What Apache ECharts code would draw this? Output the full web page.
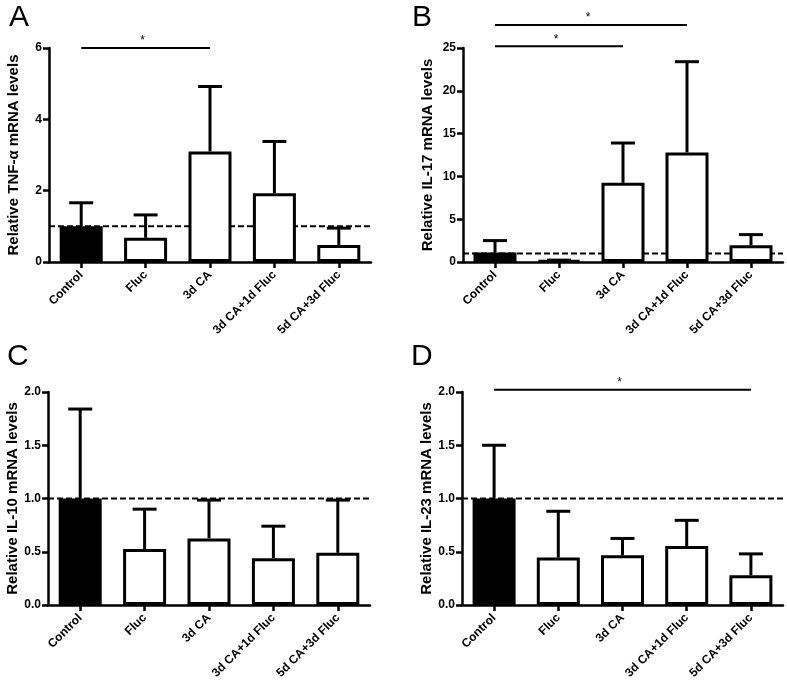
<!DOCTYPE html>
<html>
<head>
<meta charset="utf-8">
<script src="https://cdn.jsdelivr.net/npm/echarts@6/dist/echarts.min.js"></script>
<style>
html,body{margin:0;padding:0;background:#fff;}
#chart{width:787px;height:686px;}
</style>
</head>
<body>
<div id="chart"></div>
<script>
// ---- data ----
const categories = ['Control', 'Fluc', '3d CA', '3d CA+1d Fluc', '5d CA+3d Fluc'];

const tnfMean  = [1.0, 0.68, 3.1, 1.93, 0.48];
const tnfUpper = [1.66, 1.32, 4.92, 3.38, 0.95];

const il17Mean  = [1.1, 0.2, 9.25, 12.8, 1.95];
const il17Upper = [2.5, 0.22, 13.9, 23.4, 3.2];

const il10Mean  = [1.0, 0.525, 0.625, 0.44, 0.49];
const il10Upper = [1.84, 0.9, 0.985, 0.74, 0.985];

const il23Mean  = [1.0, 0.445, 0.466, 0.553, 0.28];
const il23Upper = [1.5, 0.88, 0.625, 0.795, 0.48];

// significance brackets: [fromCategoryIndex, toCategoryIndex, yValue]
const sigA = [[0, 2, 6.0]];
const sigB = [[0, 3, 27.7], [0, 2, 25.2]];
const sigC = [];
const sigD = [[0, 4, 2.02]];

const refValue = 1;

const yTitles = ['Relative TNF-α mRNA levels', 'Relative IL-17 mRNA levels',
                 'Relative IL-10 mRNA levels', 'Relative IL-23 mRNA levels'];
const yMax = [6, 25, 2, 2];
const yInterval = [2, 5, 0.5, 0.5];
const yDecimals = [0, 0, 1, 1];
const panelLetters = ['A', 'B', 'C', 'D'];

// ---- layout ----
const FONT = '"Liberation Sans", Arial, Helvetica, sans-serif';
const grids = [
  {left: 49, top: 48, width: 322, height: 214},
  {left: 463, top: 48, width: 320, height: 214},
  {left: 48, top: 392, width: 322, height: 213},
  {left: 462, top: 392, width: 321, height: 213}
];
const letterPos = [[4, -2], [407, -2], [2, 337], [406, 337]];

const means = [tnfMean, il17Mean, il10Mean, il23Mean];
const uppers = [tnfUpper, il17Upper, il10Upper, il23Upper];
const sigs = [sigA, sigB, sigC, sigD];

const chart = echarts.init(document.getElementById('chart'), null, {renderer: 'canvas'});

const xAxes = [], yAxes = [], series = [], titles = [];
grids.forEach((g, i) => {
  g.outerBoundsMode = 'none';
  g.containLabel = false;
  xAxes.push({
    type: 'category', gridIndex: i, data: categories, boundaryGap: true,
    axisLine: {show: true, lineStyle: {color: '#000', width: 2.5}},
    axisTick: {show: true, alignWithLabel: true, length: 6, lineStyle: {color: '#000', width: 2.5}},
    axisLabel: {rotate: 45, interval: 0, margin: 11, color: '#000', fontFamily: FONT,
                fontWeight: 'bold', fontSize: 12},
    splitLine: {show: false}
  });
  yAxes.push({
    type: 'value', gridIndex: i, min: 0, max: yMax[i], interval: yInterval[i],
    name: yTitles[i], nameLocation: 'middle', nameGap: 28,
    nameTextStyle: {color: '#000', fontFamily: FONT, fontWeight: 'bold', fontSize: 15},
    axisLine: {show: true, lineStyle: {color: '#000', width: 2.5}},
    axisTick: {show: true, length: 6, lineStyle: {color: '#000', width: 2.5}},
    axisLabel: {margin: 7, color: '#000', fontFamily: FONT, fontWeight: 'bold', fontSize: 12,
                formatter: v => v.toFixed(yDecimals[i])},
    splitLine: {show: false}
  });
  titles.push({
    text: panelLetters[i], left: letterPos[i][0], top: letterPos[i][1],
    textStyle: {fontFamily: FONT, fontWeight: 'normal', fontSize: 30, color: '#000'}
  });

  // dashed reference line (behind bars)
  series.push({
    type: 'custom', xAxisIndex: i, yAxisIndex: i, z: 1, silent: true,
    data: [[0, refValue]], encode: {x: 0, y: 1},
    renderItem: (params, api) => {
      const cs = params.coordSys;
      const y = api.coord([0, api.value(1)])[1];
      return {type: 'line', shape: {x1: cs.x, y1: y, x2: cs.x + cs.width, y2: y},
              style: {stroke: '#000', lineWidth: 2, lineDash: [6, 3]}};
    }
  });

  // bars
  series.push({
    type: 'bar', xAxisIndex: i, yAxisIndex: i, z: 2, barWidth: 43,
    data: means[i].map((v, k) => k === 0
      ? {value: v, itemStyle: {color: '#000', borderColor: '#000', borderWidth: 3}}
      : {value: v}),
    itemStyle: {color: '#fff', borderColor: '#000', borderWidth: 3},
    emphasis: {disabled: true}
  });

  // upper error bars
  series.push({
    type: 'custom', xAxisIndex: i, yAxisIndex: i, z: 3, silent: true,
    data: means[i].map((v, k) => [k, v, uppers[i][k]]),
    encode: {x: 0, y: [1, 2]},
    renderItem: (params, api) => {
      const x = api.value(0);
      const p0 = api.coord([x, api.value(1)]);
      const p1 = api.coord([x, api.value(2)]);
      return {type: 'group', children: [
        {type: 'line', shape: {x1: p0[0], y1: p0[1], x2: p1[0], y2: p1[1]},
         style: {stroke: '#000', lineWidth: 3}},
        {type: 'line', shape: {x1: p1[0] - 12, y1: p1[1], x2: p1[0] + 12, y2: p1[1]},
         style: {stroke: '#000', lineWidth: 3}}
      ]};
    }
  });

  // significance brackets
  if (sigs[i].length) {
    series.push({
      type: 'custom', xAxisIndex: i, yAxisIndex: i, z: 4, silent: true, clip: false,
      data: sigs[i], encode: {x: [0, 1], y: 2},
      renderItem: (params, api) => {
        const a = api.coord([api.value(0), api.value(2)]);
        const b = api.coord([api.value(1), api.value(2)]);
        return {type: 'group', children: [
          {type: 'line', shape: {x1: a[0], y1: a[1], x2: b[0], y2: b[1]},
           style: {stroke: '#000', lineWidth: 2}},
          {type: 'text', x: (a[0] + b[0]) / 2 - 3, y: a[1] - 1,
           style: {text: '*', fill: '#000', font: '12px ' + FONT, align: 'center', verticalAlign: 'bottom'}}
        ]};
      }
    });
  }
});

chart.setOption({
  animation: false,
  backgroundColor: '#fff',
  title: titles,
  grid: grids,
  xAxis: xAxes,
  yAxis: yAxes,
  series: series
});
</script>
</body>
</html>
